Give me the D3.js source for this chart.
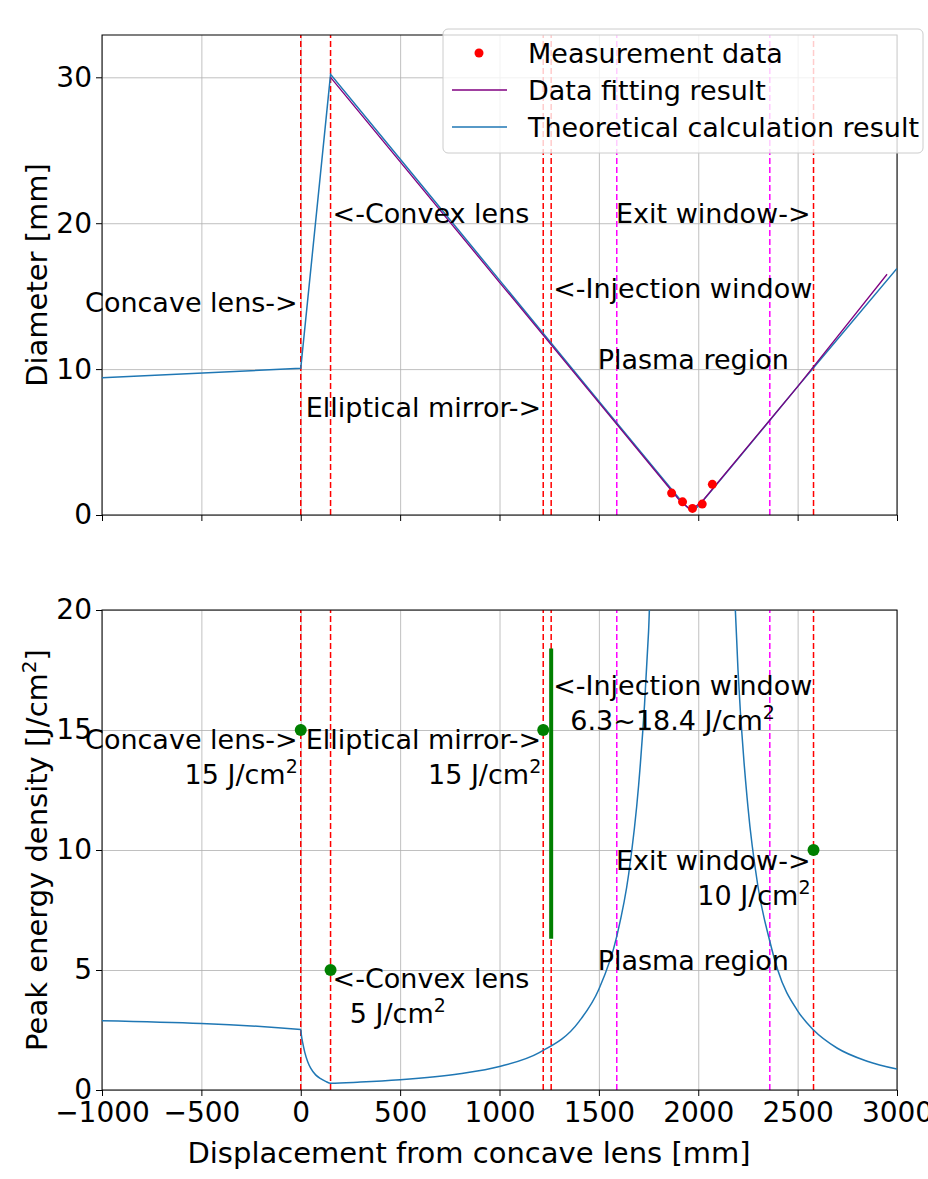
<!DOCTYPE html>
<html>
<head>
<meta charset="utf-8">
<script src="https://cdn.jsdelivr.net/npm/d3@7"></script>
<style>
  body { margin: 0; background: #fff; }
  text { font-family: "DejaVu Sans", sans-serif; fill: #000; }
</style>
</head>
<body>
<div id="chart"></div>
<script>
// x axis shared by both panels
const xTicks = [-1000, -500, 0, 500, 1000, 1500, 2000, 2500, 3000];
const diamTicks = [0, 10, 20, 30];
const energyTicks = [0, 5, 10, 15, 20];

// optical elements (red dashed) and plasma region (magenta dashed)
const opticsX = [0, 150, 1220, 1260, 2580];
const plasmaX = [1590, 2360];

// top panel: diameter [mm]
const measX = [1866, 1921, 1971, 2020, 2071];
const measY = [1.5, 0.9, 0.45, 0.75, 2.1];
const fitX = [150, 1000, 1500, 1900, 1965, 2030, 2500, 2950];
const fitY = [30.0, 15.95, 7.7, 1.1, 0.3, 1.1, 8.8, 16.5];
const theoX = [-1000, 0, 150, 500, 1000, 1500, 1800, 1900, 1940, 1970, 2000, 2050, 2200, 2500, 2580, 3000];
const theoY = [9.4, 10.05, 30.2, 24.4, 16.1, 7.8, 2.85, 1.2, 0.6, 0.25, 0.6, 1.4, 3.85, 8.8, 10.1, 16.9];

// bottom panel: peak energy density [J/cm2]
const energyX = [-1000, 0, 3, 10, 20, 35, 50, 75, 100, 125, 150, 300, 500, 800, 1000, 1200, 1400, 1500,
  1590, 1650, 1700, 1730, 1750, 1765, 2170, 2185, 2200, 2250, 2300, 2360, 2400, 2500, 2580, 2700, 2850, 3000];
const energyY = [2.89, 2.52, 2.3, 1.96, 1.58, 1.18, 0.91, 0.63, 0.47, 0.36, 0.28, 0.33, 0.43, 0.68, 0.98, 1.56, 2.85, 4.2,
  6.4, 9.0, 12.7, 16.1, 19.1, 22.0, 22.0, 20.3, 17.5, 11.8, 8.5, 6.2, 5.0, 3.3, 2.5, 1.74, 1.2, 0.87];
const damageX = [0, 150, 1220, 2580];
const damageY = [15, 5, 15, 10];
const injX = 1260;
const injRange = [6.3, 18.4];

const width = 928, height = 1179;
const left = 102, right = 897;

const svg = d3.select("#chart").append("svg")
    .attr("width", width)
    .attr("height", height);

const x = d3.scaleLinear().domain([-1000, 3000]).range([left, right]);
const yTop = d3.scaleLinear().domain([0, 32.9]).range([515, 35]);
const yBot = d3.scaleLinear().domain([0, 20]).range([1090, 610]);

const fmt = d => d < 0 ? "\u2212" + Math.abs(d) : String(d);

function panel(y, yTicks, id, showXLabels) {
    const [y0, y1] = y.range();
    const g = svg.append("g");

    svg.append("clipPath").attr("id", id)
        .append("rect")
        .attr("x", left).attr("y", y1)
        .attr("width", right - left).attr("height", y0 - y1);

    // grid
    g.append("g")
        .attr("transform", `translate(0,${y0})`)
        .call(d3.axisBottom(x).tickValues(xTicks).tickSize(-(y0 - y1)).tickFormat(""))
        .call(s => s.select(".domain").remove())
        .selectAll("line").attr("stroke", "#b0b0b0").attr("stroke-width", 0.8);
    g.append("g")
        .attr("transform", `translate(${left},0)`)
        .call(d3.axisLeft(y).tickValues(yTicks).tickSize(-(right - left)).tickFormat(""))
        .call(s => s.select(".domain").remove())
        .selectAll("line").attr("stroke", "#b0b0b0").attr("stroke-width", 0.8);

    // dashed vertical lines
    g.selectAll(".optic")
        .data(opticsX)
        .enter()
        .append("line")
        .attr("x1", d => x(d)).attr("x2", d => x(d))
        .attr("y1", y0).attr("y2", y1)
        .attr("stroke", "#ff0000")
        .attr("stroke-width", 1.5)
        .attr("stroke-dasharray", "6,3");
    g.selectAll(".plasma")
        .data(plasmaX)
        .enter()
        .append("line")
        .attr("x1", d => x(d)).attr("x2", d => x(d))
        .attr("y1", y0).attr("y2", y1)
        .attr("stroke", "#ff00ff")
        .attr("stroke-width", 1.5)
        .attr("stroke-dasharray", "6,3");

    // axes
    const ax = g.append("g")
        .attr("transform", `translate(0,${y0})`)
        .call(d3.axisBottom(x).tickValues(xTicks).tickSize(6).tickPadding(6)
            .tickFormat(showXLabels ? fmt : ""));
    ax.select(".domain").remove();
    ax.selectAll("text").style("font-size", "28px").style("font-family", "DejaVu Sans");

    const ay = g.append("g")
        .attr("transform", `translate(${left},0)`)
        .call(d3.axisLeft(y).tickValues(yTicks).tickSize(6).tickPadding(4));
    ay.select(".domain").remove();
    ay.selectAll("text").style("font-size", "28px").style("font-family", "DejaVu Sans");

    g.append("rect")
        .attr("x", left).attr("y", y1)
        .attr("width", right - left).attr("height", y0 - y1)
        .attr("fill", "none")
        .attr("stroke", "#000")
        .attr("stroke-width", 1);

    return g;
}

// annotation helper: lines of text, a trailing "²" is drawn as superscript
function annotate(y, notes) {
    notes.forEach(n => {
        n.lines.forEach((line, i) => {
            const t = svg.append("text")
                .attr("x", x(n.x) + n.dx)
                .attr("y", y(n.y) + i * 35)
                .attr("text-anchor", n.anchor)
                .style("font-size", "27px");
            if (line.endsWith("²")) {
                t.append("tspan").text(line.slice(0, -1));
                t.append("tspan").attr("dy", -11).style("font-size", "19px").text("2");
            } else {
                t.text(line);
            }
        });
    });
}

// ---------- top panel ----------
const topPanel = panel(yTop, diamTicks, "clipTop", false);

const lineTop = d3.line().x(d => x(d[0])).y(d => yTop(d[1]));

topPanel.append("path")
    .datum(d3.zip(theoX, theoY))
    .attr("clip-path", "url(#clipTop)")
    .attr("fill", "none")
    .attr("stroke", "#1f77b4")
    .attr("stroke-width", 1.5)
    .attr("d", lineTop);

topPanel.append("path")
    .datum(d3.zip(fitX, fitY))
    .attr("fill", "none")
    .attr("stroke", "#800080")
    .attr("stroke-width", 1.3)
    .attr("d", lineTop);

topPanel.selectAll(".meas")
    .data(d3.zip(measX, measY))
    .enter()
    .append("circle")
    .attr("cx", d => x(d[0]))
    .attr("cy", d => yTop(d[1]))
    .attr("r", 4.5)
    .attr("fill", "#ff0000");

annotate(yTop, [
    { lines: ["Concave lens->"], x: 0, y: 13.9, dx: -3, anchor: "end" },
    { lines: ["<-Convex lens"], x: 150, y: 20.0, dx: 2, anchor: "start" },
    { lines: ["Elliptical mirror->"], x: 1220, y: 6.7, dx: -2, anchor: "end" },
    { lines: ["<-Injection window"], x: 1260, y: 14.9, dx: 2, anchor: "start" },
    { lines: ["Exit window->"], x: 2580, y: 20.0, dx: -3, anchor: "end" },
    { lines: ["Plasma region"], x: (plasmaX[0] + plasmaX[1]) / 2, y: 10, dx: 0, anchor: "middle" }
]);

// ---------- bottom panel ----------
const botPanel = panel(yBot, energyTicks, "clipBot", true);

botPanel.append("path")
    .datum(d3.zip(energyX, energyY))
    .attr("clip-path", "url(#clipBot)")
    .attr("fill", "none")
    .attr("stroke", "#1f77b4")
    .attr("stroke-width", 1.5)
    .attr("d", d3.line().x(d => x(d[0])).y(d => yBot(d[1])).curve(d3.curveMonotoneX));

botPanel.append("line")
    .attr("x1", x(injX)).attr("x2", x(injX))
    .attr("y1", yBot(injRange[0])).attr("y2", yBot(injRange[1]))
    .attr("stroke", "#008000")
    .attr("stroke-width", 4);

botPanel.selectAll(".dmg")
    .data(d3.zip(damageX, damageY))
    .enter()
    .append("circle")
    .attr("cx", d => x(d[0]))
    .attr("cy", d => yBot(d[1]))
    .attr("r", 6)
    .attr("fill", "#008000");

annotate(yBot, [
    { lines: ["Concave lens->", "15 J/cm²"], x: 0, y: 14.2, dx: -3, anchor: "end" },
    { lines: ["Elliptical mirror->", "15 J/cm²"], x: 1220, y: 14.2, dx: -2, anchor: "end" },
    { lines: ["<-Convex lens", "\u00a0\u00a05 J/cm²"], x: 150, y: 4.25, dx: 2, anchor: "start" },
    { lines: ["<-Injection window", "\u00a0\u00a06.3~18.4 J/cm²"], x: 1260, y: 16.46, dx: 2, anchor: "start" },
    { lines: ["Exit window->", "10 J/cm²"], x: 2580, y: 9.17, dx: -3, anchor: "end" },
    { lines: ["Plasma region"], x: (plasmaX[0] + plasmaX[1]) / 2, y: 5, dx: 0, anchor: "middle" }
]);

// axis labels
svg.append("text")
    .attr("transform", `translate(47,${(yTop.range()[0] + yTop.range()[1]) / 2}) rotate(-90)`)
    .attr("text-anchor", "middle")
    .style("font-size", "29px")
    .text("Diameter [mm]");

const yl = svg.append("text")
    .attr("transform", `translate(47,${(yBot.range()[0] + yBot.range()[1]) / 2}) rotate(-90)`)
    .attr("text-anchor", "middle")
    .style("font-size", "29px");
yl.append("tspan").text("Peak energy density [J/cm");
yl.append("tspan").attr("dy", -11).style("font-size", "20px").text("2");
yl.append("tspan").attr("dy", 11).text("]");

svg.append("text")
    .attr("x", 469)
    .attr("y", 1163)
    .attr("text-anchor", "middle")
    .style("font-size", "29px")
    .text("Displacement from concave lens [mm]");

// legend
const legend = svg.append("g").attr("transform", "translate(443,29)");
legend.append("rect")
    .attr("width", 480).attr("height", 124)
    .attr("rx", 5)
    .attr("fill", "#fff").attr("fill-opacity", 0.8)
    .attr("stroke", "#cccccc");

const legendItems = [
    { label: "Measurement data", type: "dot", color: "#ff0000" },
    { label: "Data fitting result", type: "line", color: "#800080" },
    { label: "Theoretical calculation result", type: "line", color: "#1f77b4" }
];
legendItems.forEach((d, i) => {
    const cy = 24 + i * 37;
    if (d.type === "dot") {
        legend.append("circle").attr("cx", 36).attr("cy", cy).attr("r", 4.5).attr("fill", d.color);
    } else {
        legend.append("line")
            .attr("x1", 9).attr("x2", 64)
            .attr("y1", cy).attr("y2", cy)
            .attr("stroke", d.color).attr("stroke-width", 1.5);
    }
    legend.append("text")
        .attr("x", 85)
        .attr("y", cy + 10)
        .style("font-size", "27px")
        .text(d.label);
});
</script>
</body>
</html>
